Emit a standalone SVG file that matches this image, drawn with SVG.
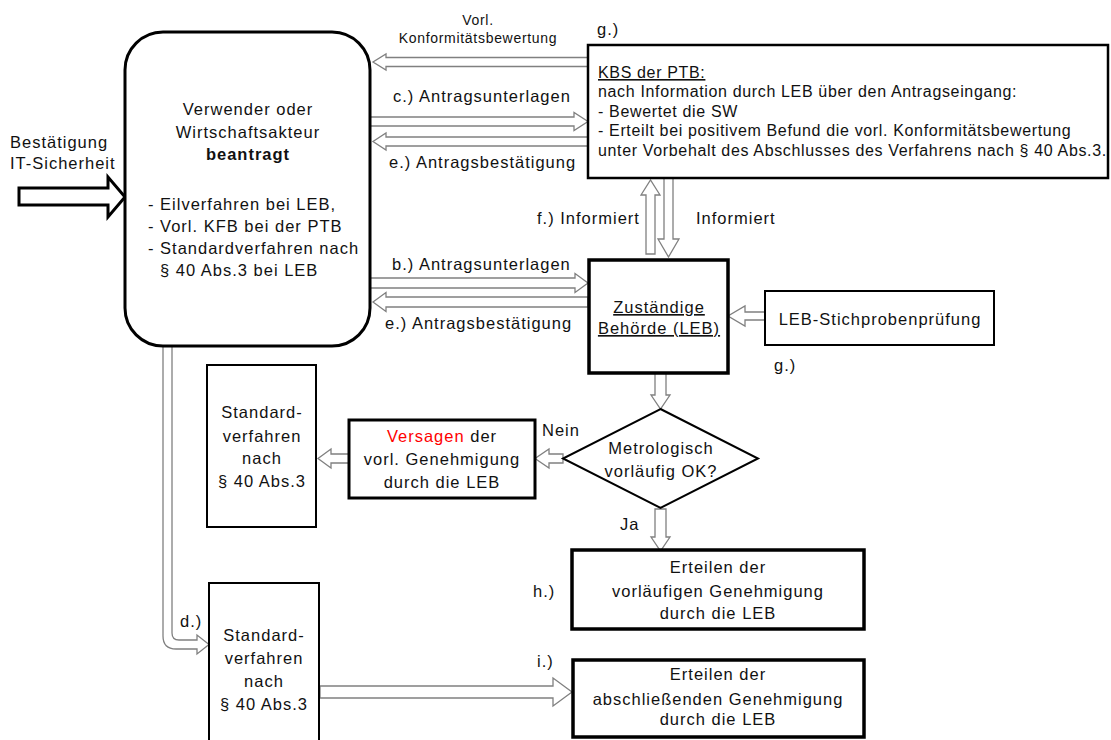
<svg xmlns="http://www.w3.org/2000/svg" width="1111" height="740" viewBox="0 0 1111 740">
<style>
text{font-family:"Liberation Sans",Arial,sans-serif;font-size:16.5px;letter-spacing:1px;fill:#111}
.c{text-anchor:middle}
.k{font-size:16px;letter-spacing:0.65px}
.s{font-size:14px;letter-spacing:0.7px}
.u{text-decoration:underline}
.ba{fill:#fff;stroke:#808080;stroke-width:1.3;stroke-linejoin:miter}
.bx{fill:#fff;stroke:#000}
</style>
<rect width="1111" height="740" fill="#fff"/>
<g id="connectors">
<polygon class="ba" points="588,57.5 386,57.5 386,54 373,62 386,70 386,66.5 588,66.5"/>
<polygon class="ba" points="370,117 574,117 574,112.5 588,121.5 574,130.5 574,126 370,126"/>
<polygon class="ba" points="588,137 386,137 386,133 373,141.5 386,150 386,146 588,146"/>
<polygon class="ba" points="370,278 575,278 575,273.5 588,283 575,292.5 575,288 370,288"/>
<polygon class="ba" points="588,297 386,297 386,292.5 373,302 386,311.5 386,307 588,307"/>
<polygon class="ba" points="765,312 745,312 745,306 728,316 745,326 745,320 765,320"/>
<polygon class="ba" points="646,254 646,195 641,195 650.5,180 660,195 655,195 655,254"/>
<polygon class="ba" points="664,178 664,239 658,239 668.5,257 679,239 673,239 673,178"/>
<polygon class="ba" points="655,373 655,395 651,395 660.5,409 670,395 666,395 666,373"/>
<polygon class="ba" points="655,509 655,537 651,537 660.5,551 670,537 666,537 666,509"/>
<polygon class="ba" points="563,454 549,454 549,449 535,458.5 549,468 549,463 563,463"/>
<polygon class="ba" points="349,454 331,454 331,449 318,458.5 331,468 331,463 349,463"/>
<path class="ba" d="M163,346 L163,636 Q163,649 176,649 L197,649 L197,654 L209,644.5 L197,635 L197,640 L179,640 Q172,640 172,633 L172,346"/>
<polygon class="ba" points="320,686 553,686 553,678 572,692 553,706 553,698 320,698"/>
<polygon fill="#fff" stroke="#000" stroke-width="3" points="19,188 108,188 108,177 125,197 108,217 108,205 19,205"/>
</g>
<g id="main">
<rect class="bx" x="125" y="32" width="245" height="314" rx="38" stroke-width="3"/>
<text class="c" x="248" y="115">Verwender oder</text>
<text class="c" x="248" y="138">Wirtschaftsakteur</text>
<text class="c" x="248" y="160" font-weight="bold">beantragt</text>
<text x="148" y="210">- Eilverfahren bei LEB,</text>
<text x="148" y="232">- Vorl. KFB bei der PTB</text>
<text x="148" y="254">- Standardverfahren nach</text>
<text x="160" y="276">§ 40 Abs.3 bei LEB</text>
</g>
<g id="input">
<text x="10" y="148">Bestätigung</text>
<text x="10" y="169">IT-Sicherheit</text>
</g>
<g id="kbs">
<rect class="bx" x="588" y="45" width="520" height="133" stroke-width="2.5"/>
<text class="k u" x="598" y="78">KBS der PTB:</text>
<text class="k" x="598" y="97">nach Information durch LEB über den Antragseingang:</text>
<text class="k" x="598" y="117">- Bewertet die SW</text>
<text class="k" x="598" y="136">- Erteilt bei positivem Befund die vorl. Konformitätsbewertung</text>
<text class="k" x="598" y="156">unter Vorbehalt des Abschlusses des Verfahrens nach § 40 Abs.3.</text>
</g>
<g id="labels">
<text class="s c" x="478" y="25">Vorl.</text>
<text class="s c" x="478" y="43">Konformitätsbewertung</text>
<text x="597" y="35">g.)</text>
<text x="393" y="102">c.) Antragsunterlagen</text>
<text x="389" y="168">e.) Antragsbestätigung</text>
<text x="392" y="270">b.) Antragsunterlagen</text>
<text x="385" y="329">e.) Antragsbestätigung</text>
<text x="537" y="224">f.) Informiert</text>
<text x="696" y="224">Informiert</text>
<text x="774" y="371">g.)</text>
<text x="542" y="436">Nein</text>
<text x="620" y="530">Ja</text>
<text x="180" y="627">d.)</text>
<text x="533" y="597">h.)</text>
<text x="537" y="667">i.)</text>
</g>
<g id="leb">
<rect class="bx" x="589" y="260" width="139" height="113" stroke-width="3.5"/>
<text class="c u" x="659" y="313">Zuständige</text>
<text class="c u" x="659" y="334">Behörde (LEB)</text>
</g>
<g id="stichprobe">
<rect class="bx" x="765" y="291" width="229" height="54" stroke-width="2"/>
<text class="c" x="880" y="325">LEB-Stichprobenprüfung</text>
</g>
<g id="decision">
<polygon class="bx" stroke-width="2" points="660.5,409 758,458.5 660.5,508 563,458.5"/>
<text class="c" x="661" y="454">Metrologisch</text>
<text class="c" x="661" y="477">vorläufig OK?</text>
</g>
<g id="versagen">
<rect class="bx" x="349" y="420" width="186" height="78" stroke-width="3"/>
<text class="c" x="442" y="442"><tspan fill="#ff0000">Versagen</tspan> der</text>
<text class="c" x="442" y="465">vorl. Genehmigung</text>
<text class="c" x="442" y="488">durch die LEB</text>
</g>
<g id="standard1">
<rect class="bx" x="207" y="365" width="109" height="162" stroke-width="2"/>
<text class="c" x="262" y="418">Standard-</text>
<text class="c" x="262" y="442">verfahren</text>
<text class="c" x="262" y="464">nach</text>
<text class="c" x="262" y="487">§ 40 Abs.3</text>
</g>
<g id="standard2">
<rect class="bx" x="209" y="583" width="110" height="170" stroke-width="2"/>
<text class="c" x="264" y="641">Standard-</text>
<text class="c" x="264" y="664">verfahren</text>
<text class="c" x="264" y="687">nach</text>
<text class="c" x="264" y="710">§ 40 Abs.3</text>
</g>
<g id="vorl-genehmigung">
<rect class="bx" x="572" y="550" width="292" height="79" stroke-width="3.5"/>
<text class="c" x="718" y="573">Erteilen der</text>
<text class="c" x="718" y="597">vorläufigen Genehmigung</text>
<text class="c" x="718" y="619">durch die LEB</text>
</g>
<g id="abschl-genehmigung">
<rect class="bx" x="573" y="660" width="291" height="77" stroke-width="3.5"/>
<text class="c" x="718" y="680">Erteilen der</text>
<text class="c" x="718" y="705">abschließenden Genehmigung</text>
<text class="c" x="718" y="725">durch die LEB</text>
</g>
</svg>
